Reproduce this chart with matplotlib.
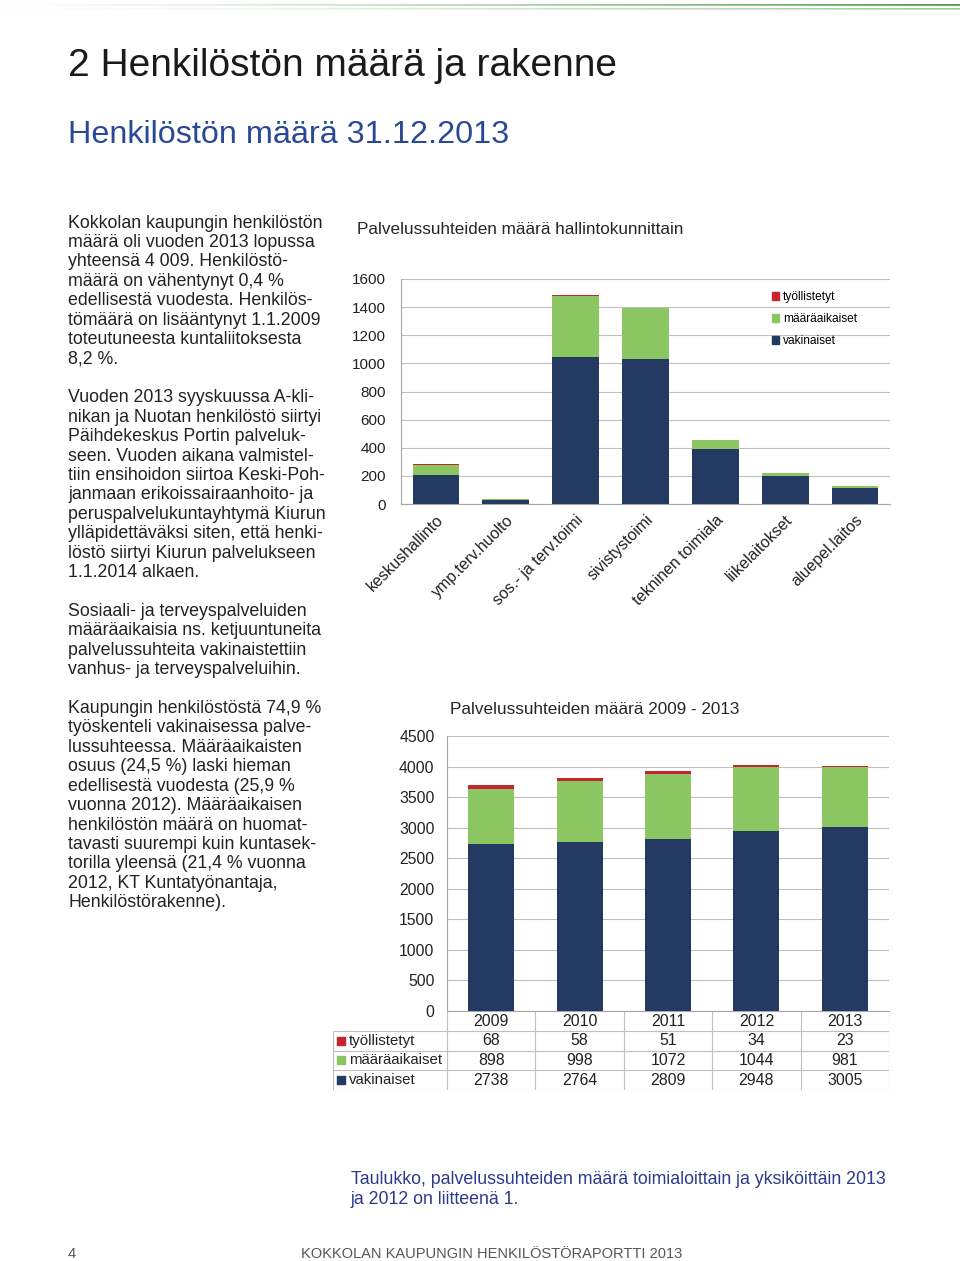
import numpy as np
import matplotlib.pyplot as plt
from matplotlib.patches import Patch

plt.rcParams['font.family'] = ['Liberation Sans', 'DejaVu Sans']

# --- Datos: palvelussuhteet hallintokunnittain 31.12.2013 ---
hallintokunnat = ["keskushallinto", "ymp.terv.huolto", "sos.- ja terv.toimi", "sivistystoimi",
                  "tekninen toimiala", "liikelaitokset", "aluepel.laitos"]
hk_vakinaiset = [204, 26, 1045, 1029, 389, 199, 111]
hk_maaraaikaiset = [73, 10, 437, 362, 64, 21, 19]
hk_tyollistetyt = [8, 0, 6, 5, 3, 1, 0]

# --- Datos: palvelussuhteet 2009 - 2013 ---
vuodet = ["2009", "2010", "2011", "2012", "2013"]
vakinaiset = [2738, 2764, 2809, 2948, 3005]
maaraaikaiset = [898, 998, 1072, 1044, 981]
tyollistetyt = [68, 58, 51, 34, 23]

sarjat = ["työllistetyt", "määräaikaiset", "vakinaiset"]

tekstirivit = [
    "Kokkolan kaupungin henkilöstön",
    "määrä oli vuoden 2013 lopussa",
    "yhteensä 4 009. Henkilöstö-",
    "määrä on vähentynyt 0,4 %",
    "edellisestä vuodesta. Henkilös-",
    "tömäärä on lisääntynyt 1.1.2009",
    "toteutuneesta kuntaliitoksesta",
    "8,2 %.",
    "",
    "Vuoden 2013 syyskuussa A-kli-",
    "nikan ja Nuotan henkilöstö siirtyi",
    "Päihdekeskus Portin palveluk-",
    "seen. Vuoden aikana valmistel-",
    "tiin ensihoidon siirtoa Keski-Poh-",
    "janmaan erikoissairaanhoito- ja",
    "peruspalvelukuntayhtymä Kiurun",
    "ylläpidettäväksi siten, että henki-",
    "löstö siirtyi Kiurun palvelukseen",
    "1.1.2014 alkaen.",
    "",
    "Sosiaali- ja terveyspalveluiden",
    "määräaikaisia ns. ketjuuntuneita",
    "palvelussuhteita vakinaistettiin",
    "vanhus- ja terveyspalveluihin.",
    "",
    "Kaupungin henkilöstöstä 74,9 %",
    "työskenteli vakinaisessa palve-",
    "lussuhteessa. Määräaikaisten",
    "osuus (24,5 %) laski hieman",
    "edellisestä vuodesta (25,9 %",
    "vuonna 2012). Määräaikaisen",
    "henkilöstön määrä on huomat-",
    "tavasti suurempi kuin kuntasek-",
    "torilla yleensä (21,4 % vuonna",
    "2012, KT Kuntatyönantaja,",
    "Henkilöstörakenne).",
]

# colores
c_vak = "#243A63"
c_maa = "#8CC663"
c_tyo = "#C4262E"
c_grid = "#BFBFBF"
c_sininen = "#2B4896"

W, H = 960, 1261
fig = plt.figure(figsize=(W / 100, H / 100), dpi=100)


def laatikko(x0, y0, x1, y1):
    # pikselit -> figure fraction
    return [x0 / W, 1 - y1 / H, (x1 - x0) / W, (y1 - y0) / H]


def teksti(x, y, s, **kw):
    fig.text(x / W, 1 - y / H, s, **kw)


# --- Viiva ylhäällä (liukuväri) ---
ax_g = fig.add_axes(laatikko(0, 2, W, 11))
t = np.linspace(0, 1, 480) ** 1.3
vihrea = np.array([0.30, 0.60, 0.27])
kuva = np.ones((9, 480, 3))
for rivi, voima in [(2, 1.0), (3, 0.8), (6, 0.55), (7, 0.35)]:
    kuva[rivi] = 1 - (1 - vihrea) * (t[:, None] * voima)
ax_g.imshow(kuva, aspect="auto", interpolation="bilinear")
ax_g.axis("off")

# --- Otsikot ---
teksti(68, 76, "2 Henkilöstön määrä ja rakenne", fontsize=28, color="#1A1A1A", va="baseline")
teksti(68, 143, "Henkilöstön määrä 31.12.2013", fontsize=23.3, color=c_sininen, va="baseline")

# --- Leipäteksti ---
for i, rivi in enumerate(tekstirivit):
    teksti(68, 222 + i * 19.42 + 5.5, rivi, fontsize=12.8, color="#222222", va="baseline")

# --- Kaavio 1: hallintokunnittain ---
ax1 = fig.add_axes(laatikko(401, 279, 890, 504))
x = np.arange(len(hallintokunnat))
v1 = np.array(hk_vakinaiset)
m1 = np.array(hk_maaraaikaiset)
ax1.bar(x, v1, 0.67, color=c_vak, zorder=3)
ax1.bar(x, m1, 0.67, bottom=v1, color=c_maa, zorder=3)
ax1.bar(x, hk_tyollistetyt, 0.67, bottom=v1 + m1, color=c_tyo, zorder=3)
ax1.set_xlim(-0.5, len(hallintokunnat) - 0.5)
ax1.set_ylim(0, 1600)
ax1.set_yticks(range(0, 1601, 200))
ax1.grid(axis="y", color=c_grid, lw=0.8, zorder=0)
for s in ["top", "right"]:
    ax1.spines[s].set_visible(False)
ax1.spines["left"].set_color("#A6A6A6")
ax1.spines["bottom"].set_color("#A6A6A6")
ax1.tick_params(length=0, labelsize=11, colors="#222222")
ax1.tick_params(axis="y", pad=11)
ax1.set_xticks(x)
ax1.set_xticklabels(hallintokunnat, rotation=45, ha="right", va="top",
                    rotation_mode="anchor", fontsize=11.5)
ax1.tick_params(axis="x", pad=6)
teksti(357, 229, "Palvelussuhteiden määrä hallintokunnittain", fontsize=12.3,
       color="#262626", va="center")
kahvat = [Patch(color=c) for c in [c_tyo, c_maa, c_vak]]
fig.legend(kahvat, sarjat, loc="upper left", bbox_to_anchor=(772 / W, 1 - 291 / H),
           frameon=False, fontsize=8.6, handlelength=0.6, handleheight=0.6,
           handletextpad=0.3, labelspacing=0.85, borderpad=0, borderaxespad=0)

# --- Kaavio 2: 2009 - 2013 ---
ax2 = fig.add_axes(laatikko(447, 736, 889, 1011))
xv = np.arange(len(vuodet))
v2 = np.array(vakinaiset)
m2 = np.array(maaraaikaiset)
ax2.bar(xv, v2, 0.52, color=c_vak, zorder=3)
ax2.bar(xv, m2, 0.52, bottom=v2, color=c_maa, zorder=3)
ax2.bar(xv, tyollistetyt, 0.52, bottom=v2 + m2, color=c_tyo, zorder=3)
ax2.set_xlim(-0.5, len(vuodet) - 0.5)
ax2.set_ylim(0, 4500)
ax2.set_yticks(range(0, 4501, 500))
ax2.set_xticks([])
ax2.grid(axis="y", color=c_grid, lw=0.8, zorder=0)
for s in ["top", "right"]:
    ax2.spines[s].set_visible(False)
ax2.spines["left"].set_color("#A6A6A6")
ax2.spines["bottom"].set_color("#A6A6A6")
ax2.tick_params(length=0, labelsize=11.3, colors="#222222")
ax2.tick_params(axis="y", pad=9)
teksti(450, 710, "Palvelussuhteiden määrä 2009 - 2013", fontsize=12.3,
       color="#262626", va="center")

# --- Taulukko kaavion alla ---
sarake = (889 - 447) / len(vuodet)
x_vasen = -0.5 - (447 - 333) / sarake
ax3 = fig.add_axes(laatikko(333, 1011, 889, 1090))
ax3.set_xlim(x_vasen, len(vuodet) - 0.5)
ax3.set_ylim(4, 0)
ax3.axis("off")
ax3.hlines([1, 2, 3, 4], x_vasen, len(vuodet) - 0.5, color=c_grid, lw=0.8)
ax3.vlines(x_vasen, 1, 4, color=c_grid, lw=0.8)
ax3.vlines(np.arange(len(vuodet) + 1) - 0.5, 0, 4, color=c_grid, lw=0.8)
for i, v in enumerate(vuodet):
    ax3.text(i, 0.55, v, ha="center", va="center", fontsize=11.4, color="#222222")
rivit = [(sarjat[0], c_tyo, tyollistetyt), (sarjat[1], c_maa, maaraaikaiset),
         (sarjat[2], c_vak, vakinaiset)]
x_ruutu = x_vasen + 8 / sarake
x_nimi = x_vasen + 16 / sarake
for r, (nimi, vari, arvot) in enumerate(rivit, start=1):
    ax3.scatter([x_ruutu], [r + 0.5], marker="s", s=26, color=vari, clip_on=False)
    ax3.text(x_nimi, r + 0.5, nimi, ha="left", va="center", fontsize=10.8, color="#222222")
    for i, a in enumerate(arvot):
        ax3.text(i, r + 0.5, str(a), ha="center", va="center", fontsize=11.4, color="#222222")

# --- Kuvateksti ja alatunniste ---
teksti(351, 1179, "Taulukko, palvelussuhteiden määrä toimialoittain ja yksiköittäin 2013",
       fontsize=12.75, color="#2B3A8C", va="center")
teksti(351, 1199, "ja 2012 on liitteenä 1.", fontsize=12.75, color="#2B3A8C", va="center")
teksti(68, 1254, "4", fontsize=10.5, color="#555555", va="center")
teksti(301, 1254, "KOKKOLAN KAUPUNGIN HENKILÖSTÖRAPORTTI 2013", fontsize=10.5,
       color="#555555", va="center")

fig.savefig("out.png", dpi=100)
